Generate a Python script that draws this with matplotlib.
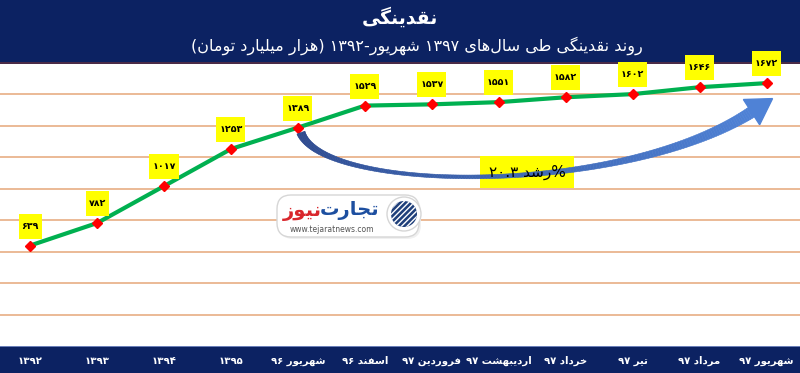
import numpy as np
import matplotlib
matplotlib.use("Agg")
import matplotlib.pyplot as plt
from matplotlib.patches import Rectangle, FancyBboxPatch, Polygon, Circle
from matplotlib.transforms import IdentityTransform

# ---------------- data ----------------
categories = ['۱۳۹۲', '۱۳۹۳', '۱۳۹۴', '۱۳۹۵', 'شهریور ۹۶', 'اسفند ۹۶',
              'فروردین ۹۷', 'اردیبهشت ۹۷', 'خرداد ۹۷', 'تیر ۹۷', 'مرداد ۹۷', 'شهریور ۹۷']
values = [639, 782, 1017, 1253, 1389, 1529, 1537, 1551, 1582, 1602, 1646, 1672]
title = 'نقدینگی'
subtitle = 'روند نقدینگی طی سال\u200cهای ۱۳۹۷ شهریور-۱۳۹۲ (هزار میلیارد تومان)'
growth_label = '%رشد ۲۰.۳'
logo_blue = 'تجارت'
logo_red = 'نیوز'
logo_url = 'www.tejaratnews.com'

# ---------------- simple Persian shaping + RTL ordering ----------------
FORMS = {
    '\u0627': (0xFE8D, 0xFE8E, None, None),
    '\u0622': (0xFE81, 0xFE82, None, None),
    '\u0628': (0xFE8F, 0xFE90, 0xFE91, 0xFE92),
    '\u067E': (0xFB56, 0xFB57, 0xFB58, 0xFB59),
    '\u062A': (0xFE95, 0xFE96, 0xFE97, 0xFE98),
    '\u062B': (0xFE99, 0xFE9A, 0xFE9B, 0xFE9C),
    '\u062C': (0xFE9D, 0xFE9E, 0xFE9F, 0xFEA0),
    '\u0686': (0xFB7A, 0xFB7B, 0xFB7C, 0xFB7D),
    '\u062D': (0xFEA1, 0xFEA2, 0xFEA3, 0xFEA4),
    '\u062E': (0xFEA5, 0xFEA6, 0xFEA7, 0xFEA8),
    '\u062F': (0xFEA9, 0xFEAA, None, None),
    '\u0630': (0xFEAB, 0xFEAC, None, None),
    '\u0631': (0xFEAD, 0xFEAE, None, None),
    '\u0632': (0xFEAF, 0xFEB0, None, None),
    '\u0698': (0xFB8A, 0xFB8B, None, None),
    '\u0633': (0xFEB1, 0xFEB2, 0xFEB3, 0xFEB4),
    '\u0634': (0xFEB5, 0xFEB6, 0xFEB7, 0xFEB8),
    '\u0635': (0xFEB9, 0xFEBA, 0xFEBB, 0xFEBC),
    '\u0636': (0xFEBD, 0xFEBE, 0xFEBF, 0xFEC0),
    '\u0637': (0xFEC1, 0xFEC2, 0xFEC3, 0xFEC4),
    '\u0638': (0xFEC5, 0xFEC6, 0xFEC7, 0xFEC8),
    '\u0639': (0xFEC9, 0xFECA, 0xFECB, 0xFECC),
    '\u063A': (0xFECD, 0xFECE, 0xFECF, 0xFED0),
    '\u0641': (0xFED1, 0xFED2, 0xFED3, 0xFED4),
    '\u0642': (0xFED5, 0xFED6, 0xFED7, 0xFED8),
    '\u06A9': (0xFB8E, 0xFB8F, 0xFB90, 0xFB91),
    '\u06AF': (0xFB92, 0xFB93, 0xFB94, 0xFB95),
    '\u0644': (0xFEDD, 0xFEDE, 0xFEDF, 0xFEE0),
    '\u0645': (0xFEE1, 0xFEE2, 0xFEE3, 0xFEE4),
    '\u0646': (0xFEE5, 0xFEE6, 0xFEE7, 0xFEE8),
    '\u0647': (0xFEE9, 0xFEEA, 0xFEEB, 0xFEEC),
    '\u0648': (0xFEED, 0xFEEE, None, None),
    '\u06CC': (0xFBFC, 0xFBFD, 0xFBFE, 0xFBFF),
}
MIRROR = {'(': ')', ')': '(', '[': ']', ']': '['}


def to_fa_digits(s):
    return ''.join(chr(0x06F0 + int(c)) if c.isascii() and c.isdigit() else c for c in str(s))


def is_digit(c):
    return ('0' <= c <= '9') or ('\u06F0' <= c <= '\u06F9') or ('\u0660' <= c <= '\u0669')


def shape(s):
    s = s.replace('\u064A', '\u06CC').replace('\u0643', '\u06A9')
    out = []
    for i, c in enumerate(s):
        if c not in FORMS:
            out.append(c)
            continue
        prev = s[i - 1] if i > 0 else None
        nxt = s[i + 1] if i + 1 < len(s) else None
        iso, fin, ini, med = FORMS[c]
        jp = prev in FORMS and FORMS[prev][2] is not None
        jn = nxt in FORMS and ini is not None
        if jp and jn:
            g = med
        elif jp:
            g = fin
        elif jn:
            g = ini
        else:
            g = iso
        out.append(chr(g))
    return ''.join(out).replace('\u200c', '')


def rtl(s):
    r = shape(to_fa_digits(s))[::-1]
    out = []
    i = 0
    while i < len(r):
        if is_digit(r[i]):
            j = i
            while j < len(r) and (is_digit(r[j]) or (r[j] in '.\u066B' and j + 1 < len(r) and is_digit(r[j + 1]))):
                j += 1
            out.append(r[i:j][::-1])
            i = j
        else:
            out.append(MIRROR.get(r[i], r[i]))
            i += 1
    return ''.join(out)


# ---------------- figure ----------------
W, H = 800, 373
NAVY = '#0c2262'
fig = plt.figure(figsize=(W / 100, H / 100), dpi=100)
fig.patch.set_facecolor('white')
FONT = ['DejaVu Sans']


def P(x, y_down):
    return (x, H - y_down)


# banners
fig.add_artist(Rectangle((0, 1 - 62 / H), 1, 62 / H, transform=fig.transFigure,
                         facecolor=NAVY, edgecolor='none', zorder=-5))
fig.add_artist(Rectangle((0, 1 - 63.5 / H), 1, 1.5 / H, transform=fig.transFigure,
                         facecolor='#4a2b47', edgecolor='none', zorder=-5))
fig.add_artist(Rectangle((0, 0), 1, 27 / H, transform=fig.transFigure,
                         facecolor=NAVY, edgecolor='none', zorder=-5))
fig.add_artist(Rectangle((0, 26 / H), 1, 1.2 / H, transform=fig.transFigure,
                         facecolor='#6a7fb8', edgecolor='none', zorder=-5))

fig.text(0.5, 1 - 17 / H, rtl(title), ha='center', va='center', color='white',
         fontsize=13.5, fontweight='bold', family=FONT)
fig.text(417 / W, 1 - 46 / H, rtl(subtitle), ha='center', va='center', color='white',
         fontsize=11.5, family=FONT)

# axes
ax = fig.add_axes([0, 27 / H, 1, (346 - 63) / H])
ax.set_facecolor('none')
x = np.arange(len(values))
ax.set_xlim(-0.45, 11.5)
ax.set_ylim(0, 1800)
ax.set_yticks(np.arange(200, 1601, 200))
ax.yaxis.grid(True, color='#e9b48e', linewidth=1.3)
ax.tick_params(axis='y', left=False, labelleft=False)
for sp in ax.spines.values():
    sp.set_visible(False)
ax.set_xticks(x)
ax.set_xticklabels([rtl(c) for c in categories], color='white', fontsize=7.3,
                   fontweight='bold', family=FONT)
ax.tick_params(axis='x', length=0, pad=7)

ax.plot(x, values, color='#00b050', linewidth=3, zorder=3, solid_capstyle='round')
ax.plot(x, values, linestyle='none', marker='D', color='#ff0000', markersize=5.5, zorder=4)

for xi, v in zip(x, values):
    ax.annotate(to_fa_digits(v), (xi, v), xytext=(0, 14), textcoords='offset points',
                ha='center', va='center', fontsize=6.8, fontweight='bold', family=FONT,
                color='black', zorder=5,
                bbox=dict(boxstyle='square,pad=0.3', mutation_aspect=2.8,
                          facecolor='#ffff00', edgecolor='none'))

# ---------------- growth arrow ----------------
fig.canvas.draw()
p_start = ax.transData.transform((x[4], values[4]))
p_end = ax.transData.transform((x[11], values[11]))
P0 = p_start + np.array([3, -5])
P3 = p_end + np.array([-15, -29])
P1 = P0 + np.array([22, -60])
P2 = P3 + np.array([-132, -85])
t = np.linspace(0, 1, 200)[:, None]
curve = (1 - t) ** 3 * P0 + 3 * (1 - t) ** 2 * t * P1 + 3 * (1 - t) * t ** 2 * P2 + t ** 3 * P3
deriv = 3 * (1 - t) ** 2 * (P1 - P0) + 6 * (1 - t) * t * (P2 - P1) + 3 * t ** 2 * (P3 - P2)
tang = deriv / np.linalg.norm(deriv, axis=1, keepdims=True)
norm = np.column_stack([-tang[:, 1], tang[:, 0]])
tt = t[:, 0]
width = 2.5 + 6 * (1 - tt) ** 5 + 9 * tt ** 3
c0 = np.array([0x2b, 0x47, 0x8c]) / 255
c1 = np.array([0x4f, 0x82, 0xd6]) / 255
for i in range(len(tt) - 1):
    a, b = curve[i], curve[i + 1]
    wa, wb = width[i] / 2, width[i + 1] / 2
    quad = [a + norm[i] * wa, b + norm[i + 1] * wb, b - norm[i + 1] * wb, a - norm[i] * wa]
    col = c0 + (c1 - c0) * tt[i]
    fig.add_artist(Polygon(quad, closed=True, transform=IdentityTransform(),
                           facecolor=col, edgecolor=col, linewidth=0.4, zorder=7))
d = tang[-1]
nrm = norm[-1]
tip = P3 + d * 25
head = [P3 + nrm * 15, tip, P3 - nrm * 15]
fig.add_artist(Polygon(head, closed=True, transform=IdentityTransform(),
                       facecolor=c1, edgecolor=c1, zorder=7))

# growth label: box under the arrow, text above it
fig.text(527 / W, 1 - 172 / H, rtl(growth_label), ha='center', va='center', fontsize=11,
         family=FONT, color='none', zorder=6,
         bbox=dict(boxstyle='square,pad=0.55', facecolor='#ffff00', edgecolor='none'))
fig.text(527 / W, 1 - 172 / H, rtl(growth_label), ha='center', va='center', fontsize=11,
         family=FONT, color='black', zorder=8)

# ---------------- watermark logo ----------------
fig.add_artist(FancyBboxPatch(P(279, 239), 142, 42, boxstyle='round,pad=0,rounding_size=14',
                              transform=IdentityTransform(), facecolor='#f0f0f0',
                              edgecolor='none', zorder=1))
fig.add_artist(FancyBboxPatch(P(277, 237), 142, 42, boxstyle='round,pad=0,rounding_size=14',
                              transform=IdentityTransform(), facecolor='white',
                              edgecolor='#d6d6d6', linewidth=1, zorder=1))
fig.text(350 / W, 1 - 210 / H, rtl(logo_blue), ha='center', va='center', fontsize=14,
         fontweight='bold', family=FONT, color='#1d4fa0', zorder=2)
fig.text(302 / W, 1 - 211 / H, rtl(logo_red), ha='center', va='center', fontsize=14,
         fontweight='bold', family=FONT, color='#d9262c', zorder=2)
fig.text(332 / W, 1 - 229 / H, logo_url, ha='center', va='center', fontsize=5.5,
         family=FONT, color='#555555', zorder=2)
fig.add_artist(Circle(P(404, 214), 17, transform=IdentityTransform(), facecolor='white',
                      edgecolor='#d6d6d6', linewidth=1, zorder=2))
fig.add_artist(Circle(P(404, 214), 13, transform=IdentityTransform(), facecolor='#1f3f7a',
                      edgecolor='white', hatch='//////', linewidth=0, zorder=3))

fig.savefig('out.png', dpi=100)
